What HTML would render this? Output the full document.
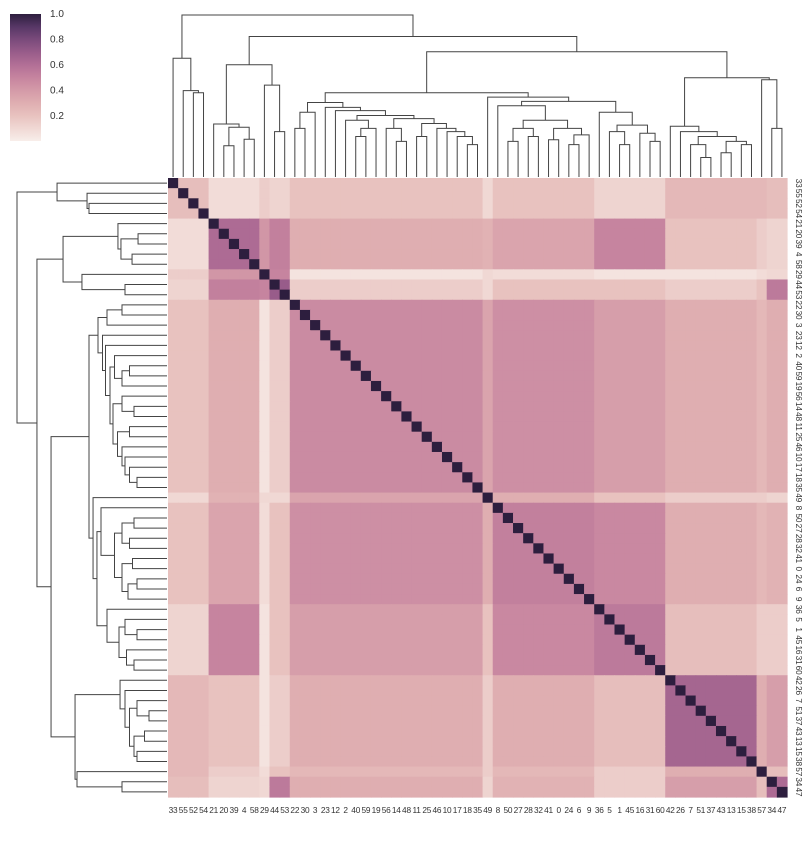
<!DOCTYPE html>
<html><head><meta charset="utf-8"><style>
body{margin:0;background:#fff;font-family:"Liberation Sans",sans-serif}
svg{display:block}
text{font-family:"Liberation Sans",sans-serif;font-size:10px;fill:#333}
text.tk{font-size:8.3px;letter-spacing:-0.2px}
</style></head><body>
<svg id="c" width="811" height="841"></svg>
<script>
// Data: cluster groups (leaf labels) and estimated mean correlations between groups
const groupNames = ["A","B","C1","C2","D","E","F","G","H","I1","I2"];
const groupA = [33,55,52,54];
const groupB = [21,20,39,4,58];
const groupC1 = [29];
const groupC2 = [44,53];
const groupD = [22,30,3,23,12,2,40,59,19,56,14,48,11,25,46,10,17,18,35];
const groupE = [49];
const groupF = [8,50,27,28,32,41,0,24,6,9];
const groupG = [36,5,1,45,16,31,60];
const groupH = [42,26,7,51,37,43,13,15,38];
const groupI1 = [57];
const groupI2 = [34,47];
const rowA  = [.22,.08,.15,.12,.20,.10,.20,.12,.25,.25,.22];
const rowB  = [.08,.62,.42,.52,.30,.28,.35,.50,.20,.15,.12];
const rowC1 = [.15,.42,1.0,.50,.05,.10,.08,.05,.05,.08,.10];
const rowC2 = [.12,.52,.50,.70,.15,.10,.20,.20,.15,.20,.55];
const rowD  = [.20,.30,.05,.15,.47,.35,.45,.38,.30,.25,.30];
const rowE  = [.10,.28,.10,.10,.35,1.0,.30,.20,.15,.15,.12];
const rowF  = [.20,.35,.08,.20,.45,.30,.52,.48,.30,.25,.28];
const rowG  = [.12,.50,.05,.20,.38,.20,.48,.55,.22,.15,.15];
const rowH  = [.25,.20,.05,.15,.30,.15,.30,.22,.65,.30,.38];
const rowI1 = [.25,.15,.08,.20,.25,.15,.25,.15,.30,1.0,.22];
const rowI2 = [.22,.12,.10,.55,.30,.12,.28,.15,.38,.22,.62];
// Linkage tree: [left, right, height]
const treeD = [[[22,30,.30],3,.40],[23,[12,[[2,[[40,59,.25],19,.30],.35],[[56,[14,48,.22],.30],[[11,25,.25],[46,[10,[17,[18,35,.20],.25],.28],.30],.33],.36],.38],.41],.43],.46];
const treeF = [8,[[[50,27,.22],[28,32,.25],.30],[[41,0,.23],[[24,6,.20],9,.26],.30],.35],.44];
const treeG = [36,[[5,[1,45,.20],.28],[16,[31,60,.22],.27],.32],.40];
const treeH = [42,[26,[[7,[51,37,.12],.20],[[43,13,.15],[15,38,.20],.22],.25],.28],.313];
const tree = [[33,[55,[52,54,.52],.533],.733],
  [[[21,[[20,39,.193],[4,58,.233],.307],.327],[29,[44,53,.28],.567],.693],
   [[treeD,[49,[treeF,treeG,.467],.493],.52],[treeH,[57,[34,47,.30],.60],.613],.773],.867],1.0];
const cbTicks = [0.2,0.4,0.6,0.8,1.0];

const groups=[groupA,groupB,groupC1,groupC2,groupD,groupE,groupF,groupG,groupH,groupI1,groupI2];
const block=[rowA,rowB,rowC1,rowC2,rowD,rowE,rowF,rowG,rowH,rowI1,rowI2];
const order=[];(function walk(n){if(Array.isArray(n)){walk(n[0]);walk(n[1]);}else order.push(n);})(tree);
const N=order.length, X0=168, Y0=178, CS=619/N;
const gOf={};groups.forEach((g,i)=>g.forEach(l=>gOf[l]=i));
const stops=["#f8eeea","#f0d8d4","#e8c2bf","#dfaeb1","#d49aa8","#c6849f","#b26f96","#985c8a","#7a4a7b","#573766","#2d1e3e"];
function hx(h){return [1,3,5].map(i=>parseInt(h.substr(i,2),16));}
function cmap(v){v=Math.max(0,Math.min(1,v));const p=v*10,i=Math.min(9,Math.floor(p)),t=p-i;const a=hx(stops[i]),b=hx(stops[i+1]);return "rgb("+a.map((x,k)=>Math.round(x+(b[k]-x)*t)).join(",")+")";}
const NS="http://www.w3.org/2000/svg", svg=document.getElementById("c");
function el(t,at,p){const e=document.createElementNS(NS,t);for(const k in at)e.setAttribute(k,at[k]);(p||svg).appendChild(e);return e;}
const xS=i=>X0+i*CS, yS=i=>Y0+i*CS;
const hm=el("g",{});


order.forEach((r,i)=>order.forEach((c,j)=>{
  const v = i===j?1:block[gOf[r]][gOf[c]];
  const rc=el("rect",{x:xS(j),y:yS(i),width:CS+0.6,height:CS+0.6,fill:cmap(v)},hm);
  
  
}));
// labels
order.forEach((l,i)=>{
  const t=el("text",{x:xS(i)+CS/2,y:813,"text-anchor":"middle","class":"tk"});t.textContent=l;
  
  
  const cx=796, cy=yS(i)+CS/2;
  const t2=el("text",{x:cx,y:cy,"text-anchor":"middle","class":"tk",transform:`rotate(90 ${cx} ${cy})`});t2.textContent=l;
  
  
});
// dendrograms
function pos(n){
  if(!Array.isArray(n)) return [order.indexOf(n)+0.5,0];
  const a=pos(n[0]),b=pos(n[1]);n._a=a;n._b=b;return [(a[0]+b[0])/2,n[2]];
}
pos(tree);
const gl=el("g",{stroke:"#444","stroke-width":1,fill:"none"});


const gt=el("g",{stroke:"#444","stroke-width":1,fill:"none"});


const leftX=h=>167-h*150, topY=h=>177-h*162;
(function draw(n){
  if(!Array.isArray(n))return;
  const a=n._a,b=n._b,h=n[2];
  el("polyline",{points:`${leftX(a[1])},${yS(a[0])} ${leftX(h)},${yS(a[0])} ${leftX(h)},${yS(b[0])} ${leftX(b[1])},${yS(b[0])}`},gl);
  el("polyline",{points:`${xS(a[0])},${topY(a[1])} ${xS(a[0])},${topY(h)} ${xS(b[0])},${topY(h)} ${xS(b[0])},${topY(b[1])}`},gt);
  draw(n[0]);draw(n[1]);
})(tree);
// colorbar
const defs=el("defs",{});const lg=el("linearGradient",{id:"cb",x1:0,y1:1,x2:0,y2:0},defs);
for(let k=0;k<=10;k++)el("stop",{offset:k/10,"stop-color":stops[k]},lg);
const cb=el("rect",{x:10,y:14,width:31,height:127,fill:"url(#cb)"});


cbTicks.forEach(v=>{const t=el("text",{x:50,y:141-v*127.5+3.5});t.textContent=v.toFixed(1);
  
  });
</script>
</body></html>
